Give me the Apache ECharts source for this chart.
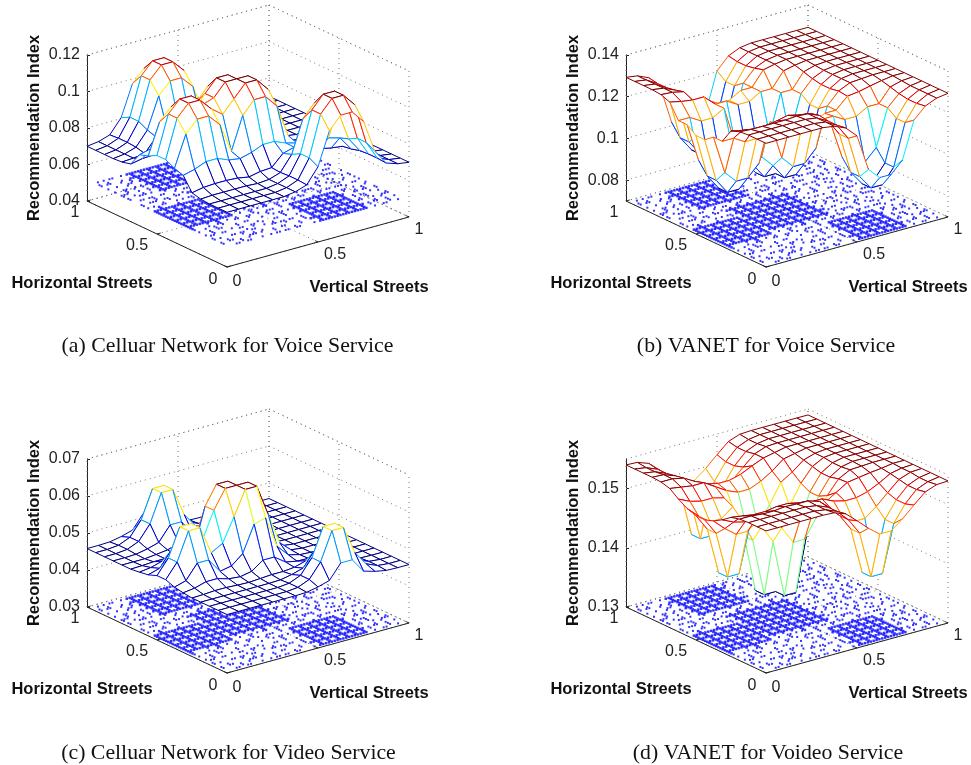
<!DOCTYPE html>
<html><head><meta charset="utf-8"><title>Recommendation Index surfaces</title>
<style>html,body{margin:0;padding:0;background:#fff}#c{width:971px;height:765px}</style>
<script src="https://cdn.jsdelivr.net/npm/echarts@6/dist/echarts.min.js"></script>
</head><body><div id="c"></div>
<script>
// Surface heights, in units of 1e-4. Rows: y = 0..1, columns: x = 0..1, step 1/16.
const surfaceA = [
[700,700,700,700,700,700,709,730,812,992,1061,1061,992,812,730,709,700],
[700,700,700,700,700,700,709,734,838,1061,1130,1130,1061,838,734,709,700],
[700,700,700,700,700,700,709,734,838,1061,1130,1130,1061,838,734,709,700],
[704,708,708,708,708,704,709,730,812,992,1061,1061,992,812,730,709,700],
[716,728,732,732,728,717,730,734,795,812,838,838,812,795,717,704,700],
[789,805,830,830,805,795,812,838,838,812,795,734,730,717,709,700,700],
[805,975,1040,1040,975,812,992,1061,1061,992,812,730,709,704,700,700,700],
[830,1040,1105,1105,1040,992,1061,1130,1130,1061,838,734,709,700,700,700,700],
[830,1040,1105,1105,1040,1061,1130,1130,1130,1061,838,734,709,700,700,700,700],
[805,975,1040,1040,975,1061,1130,1130,1061,992,812,730,709,700,700,700,700],
[789,805,830,830,812,992,1061,1061,992,812,795,717,704,700,700,700,700],
[716,728,732,732,795,812,838,838,812,795,717,709,700,700,700,700,700],
[704,708,716,789,805,830,830,805,789,717,709,700,700,700,700,700,700],
[700,708,728,805,975,1040,1040,975,805,728,708,700,700,700,700,700,700],
[700,708,732,830,1040,1105,1105,1040,830,732,708,700,700,700,700,700,700],
[700,708,732,830,1040,1105,1105,1040,830,732,708,700,700,700,700,700,700],
[700,708,728,805,975,1040,1040,975,805,728,708,700,700,700,700,700,700]];
const surfaceB = [
[1293,1293,1293,1293,1293,1293,1285,1262,1209,1033,979,979,1033,1209,1262,1285,1293],
[1293,1293,1293,1293,1293,1293,1285,1255,1178,979,910,910,979,1178,1255,1285,1293],
[1293,1293,1293,1293,1293,1293,1285,1255,1178,979,910,910,979,1178,1255,1285,1293],
[1289,1285,1285,1285,1285,1289,1285,1262,1209,1033,979,979,1033,1209,1262,1285,1293],
[1273,1261,1253,1253,1261,1273,1260,1252,1209,1209,1178,1178,1209,1209,1274,1289,1293],
[1204,1204,1172,1172,1204,1203,1203,1171,1171,1203,1203,1255,1262,1274,1285,1293,1293],
[1204,1019,963,963,1019,1203,1016,958,958,1016,1203,1260,1285,1289,1293,1293,1293],
[1172,963,890,890,963,1016,958,885,885,958,1171,1252,1285,1293,1293,1293,1293],
[1172,963,890,890,963,958,885,885,885,958,1171,1252,1285,1293,1293,1293,1293],
[1204,1019,963,963,1019,958,885,885,958,1016,1203,1260,1285,1293,1293,1293,1293],
[1204,1204,1172,1172,1203,1016,958,958,1016,1203,1203,1273,1289,1293,1293,1293,1293],
[1273,1261,1253,1253,1203,1203,1171,1171,1203,1203,1273,1285,1293,1293,1293,1293,1293],
[1289,1285,1273,1204,1204,1172,1172,1204,1204,1273,1285,1293,1293,1293,1293,1293,1293],
[1293,1285,1261,1204,1019,963,963,1019,1204,1261,1285,1293,1293,1293,1293,1293,1293],
[1293,1285,1253,1172,963,890,890,963,1172,1253,1285,1293,1293,1293,1293,1293,1293],
[1293,1285,1253,1172,963,890,890,963,1172,1253,1285,1293,1293,1293,1293,1293,1293],
[1293,1285,1261,1204,1019,963,963,1019,1204,1261,1285,1293,1293,1293,1293,1293,1293]];
const surfaceC = [
[458,458,458,458,458,458,458,459,465,474,513,513,474,465,459,458,458],
[458,458,458,458,458,458,458,461,474,513,589,589,513,474,461,458,458],
[458,458,458,458,458,458,458,461,474,513,589,589,513,474,461,458,458],
[458,458,458,458,458,458,458,459,465,474,513,513,474,465,459,458,458],
[458,459,461,461,459,458,460,462,462,465,474,474,465,461,458,458,458],
[461,465,474,474,465,462,468,490,490,468,462,461,459,458,458,458,458],
[465,474,513,513,474,480,505,576,585,500,468,460,458,458,458,458,458],
[474,513,589,589,513,530,593,659,659,575,490,462,458,458,458,458,458],
[474,513,589,589,537,608,659,659,659,560,482,462,458,458,458,458,458],
[465,474,513,513,500,608,659,659,600,500,468,460,458,458,458,458,458],
[461,465,474,474,468,520,590,590,500,468,462,458,458,458,458,458,458],
[458,459,461,461,462,468,482,482,468,462,458,458,458,458,458,458,458],
[458,458,458,461,465,474,474,465,461,458,458,458,458,458,458,458,458],
[458,458,459,465,474,513,513,474,465,459,458,458,458,458,458,458,458],
[458,458,461,474,513,589,589,513,474,461,458,458,458,458,458,458,458],
[458,458,461,474,513,589,589,513,474,461,458,458,458,458,458,458,458],
[458,458,459,465,474,513,513,474,465,459,458,458,458,458,458,458,458]];
const surfaceD = [
[1540,1540,1540,1540,1540,1540,1539,1532,1515,1497,1482,1482,1497,1515,1532,1539,1540],
[1540,1540,1540,1540,1540,1540,1537,1529,1510,1482,1403,1403,1482,1510,1529,1537,1540],
[1540,1540,1540,1540,1540,1540,1537,1529,1510,1482,1403,1403,1482,1510,1529,1537,1540],
[1539,1539,1537,1537,1539,1538,1538,1532,1515,1497,1482,1482,1497,1515,1532,1539,1540],
[1535,1532,1529,1529,1532,1532,1528,1524,1524,1515,1510,1510,1515,1524,1535,1539,1540],
[1524,1515,1510,1510,1515,1517,1505,1497,1497,1505,1517,1529,1532,1535,1537,1540,1540],
[1515,1497,1482,1482,1497,1505,1472,1442,1442,1472,1505,1528,1538,1539,1540,1540,1540],
[1510,1482,1403,1403,1482,1472,1442,1345,1345,1442,1497,1524,1536,1540,1540,1540,1540],
[1510,1482,1403,1403,1482,1442,1345,1345,1345,1442,1497,1524,1536,1540,1540,1540,1540],
[1515,1497,1482,1482,1497,1442,1345,1345,1442,1472,1505,1528,1538,1540,1540,1540,1540],
[1524,1515,1510,1510,1505,1472,1442,1442,1472,1505,1517,1532,1538,1540,1540,1540,1540],
[1535,1532,1529,1529,1517,1505,1497,1497,1505,1517,1532,1536,1540,1540,1540,1540,1540],
[1539,1539,1535,1524,1515,1510,1510,1515,1524,1532,1536,1540,1540,1540,1540,1540,1540],
[1540,1539,1532,1515,1497,1482,1482,1497,1515,1532,1539,1540,1540,1540,1540,1540,1540],
[1540,1537,1529,1510,1482,1403,1403,1482,1510,1529,1537,1540,1540,1540,1540,1540,1540],
[1540,1537,1529,1510,1482,1403,1403,1482,1510,1529,1537,1540,1540,1540,1540,1540,1540],
[1540,1539,1532,1515,1497,1482,1482,1497,1515,1532,1539,1540,1540,1540,1540,1540,1540]];

// Floor points along the street lattice: '#' = point. Rows run at y = k/20, columns at x = m/20; characters step 1/60.
const rowStreets = [
"....#..##. ..#....##. #...##.... ..# ################ ..#..##...#.",
"#..##..... ##..#...#. .##....#.. .## ################ #...##..#...",
"..#...##.. #..##..... #..#..##.. #.. ################ .##...#..##.",
".##..#.... .##...#..# ...##..#.. ..# ################ ..#.##....#.",
"...#..##.. ..#..##... .#...#.##. ..# ################ #...#..##..#",
"#....#..## ....#...## ..#..##... #.. ################ ..##..#...#.",
"################ ..#..##.. .#...##..# ..#..#.... ##..#..##. ...#..",
"################ . ##################### ..#..##... #...##..#. ..#",
"################ # ##################### #..##...#. .##..#.... #.#",
"################ # ##################### ...#..##.. #..#...##. ..#",
"################ # ##################### .##...#..# ...##...#. #..",
"################ . ##################### ..#.##.... ##..#..#.. .##",
"..#..##... #...##. ##################### #...#.##.. .##...#..# ..#",
"#...##..#. ..##..# ##################### ..##...#.. #...##..#. #..",
"..#..##... #...#..##. ..##...#.. #..##...#. .#...##..# ..##...#.. .",
"#...##..#.. ################## ..#..##... #...#..##. ..##...#.. ##",
".##...#..#. ################## #...#.##.. .##....#.. #..##...#. ..",
"...##..#... ################## .##...#... #.##...#.. .#..##..#. #.",
"#..#...##.. ################## ...##..#.. ..#..##... #...#..##. .#",
"..##...#..# ################## #..#...##. ...##..#.. .##...#..# ..",
".#...##.... ################## ..##...#.. #...##..#. ..#...##.. #."];
const colStreets = [
"..#...##.. #..#..## ################ ..#.##.... #..##..#.. ...##..",
"#..##..... ##..#... ################ ##...#..#. ..#..##... #...#.#",
".##...#..# ...##..# ################ ...#..##.. .##...#..# ..#...#",
"..#..##... #...#.## ################ #...##..#. ...#..##.. .##...#",
"...##..#.. .##...#. ################ ..#..##...# ################",
"#...#...## ..#..##. ################ .##...#..#. ################",
"..##...#.. #...##..#. ##################### .#.. ################",
"#..#..##.. ..#...##.. ##################### #..# ################",
".#...##..# ...##...#. ##################### ..#. ################",
"..##..#... ##...#..## ##################### .##. ################",
"#...##..#. ..#...##.. ##################### ..##...#.. #..#...##.",
"################ ..#. ##################### #...##.#.. ...##..#..",
"################ .##. ##################### ..#..##... #...#..##.",
"################ ..##...#.. #..##...#. ..#...##.. .##..#.... #.#..",
"################ #...##..#. ..##...#.. #...#.##.. ..#..##..# ..#..",
"################ .#..##...# ...##..#.. .##...#..# #...#...## ...#.",
"################ ..#...##.. #..#..##.. ...##.#... ..##...#.. #...#",
"..##...#.. #...##..#. ..#...##.. .##..#.... #..##...#. ..#..##... #",
"#...#..##. ..##...#.. #..#...##. ...##..#.. .#...##..# ...##..#.. .",
".##..#.... #..##...#. ..#...##.. #...#..##. ..##...#.. #...##.... #",
"...#..##.. .##...#..# ...##..#.. ..#...##.. #..#..##.. ..##...#.. ."];

const xTickLabels = ["0","0.5","1"];
const yTickLabels = ["0","0.5","1"];
const floorTicks = [0,0.5,1];
const zTicksA = [0.04,0.06,0.08,0.1,0.12];
const zTicksB = [0.08,0.1,0.12,0.14];
const zTicksC = [0.03,0.04,0.05,0.06,0.07];
const zTicksD = [0.13,0.14,0.15];
const captions = ["(a) Celluar Network for Voice Service","(b) VANET for Voice Service","(c) Celluar Network for Video Service","(d) VANET for Voideo Service"];

const panels = [
 {cells:surfaceA,zTicks:zTicksA,zmin:0.04,zmax:0.12,dotZ:0.05,ox:227,oy:267,h:146,cap:captions[0],capX:227.5,capY:335},
 {cells:surfaceB,zTicks:zTicksB,zmin:0.07,zmax:0.14,dotZ:0.07,ox:766,oy:267,h:146,cap:captions[1],capX:766,capY:335},
 {cells:surfaceC,zTicks:zTicksC,zmin:0.03,zmax:0.07,dotZ:0.03,ox:227,oy:673,h:148,cap:captions[2],capX:228.5,capY:742},
 {cells:surfaceD,zTicks:zTicksD,zmin:0.13,zmax:0.155,dotZ:0.13,ox:766,oy:673,h:148,cap:captions[3],capX:768,capY:742}
];
const XDX=182,XDY=50,YDX=140,YDY=66;
const SANS='"Liberation Sans",Arial,sans-serif';

function clamp(v){return Math.max(0,Math.min(1,v));}
function jet(t){
  const r=clamp(1.5-Math.abs(4*t-3)),g=clamp(1.5-Math.abs(4*t-2)),b=clamp(1.5-Math.abs(4*t-1));
  return 'rgb('+Math.round(r*255)+','+Math.round(g*255)+','+Math.round(b*255)+')';
}
// Long unbroken runs are the heavily used stretches of street and are drawn heavier.
function streetPoints(){
  const seen={};
  const add=(i,j,heavy)=>{const k=i+'_'+j;if(!seen[k]||heavy)seen[k]=[0.025+0.95*i/60,0.025+0.95*j/60,heavy];};
  const scan=(s,put)=>{const t=s.replace(/ /g,'');let m;const re=/#+/g;
    while((m=re.exec(t))){for(let c=0;c<m[0].length;c++){const q=m.index+c;if(q<=60)put(q,m[0].length>=10);}}};
  rowStreets.forEach((s,k)=>scan(s,(i,h)=>add(i,k*3,h)));
  colStreets.forEach((s,m)=>scan(s,(j,h)=>add(m*3,j,h)));
  return Object.keys(seen).map(k=>seen[k]);
}
const floorPoints=streetPoints();

const grid=[],xAxis=[],yAxis=[],series=[],title=[];
panels.forEach((p,n)=>{
  const zr=p.zmax-p.zmin;
  const W=XDX+YDX;
  const proj=(x,y,z)=>[(YDX*(1-y)+XDX*x)/W, z+zr/p.h*(XDY*x-YDY*(1-y))];
  grid.push({left:p.ox-YDX,top:p.oy-YDY-p.h,width:W,height:p.h,containLabel:false});
  xAxis.push({type:'value',gridIndex:n,min:0,max:1,show:false});
  yAxis.push({type:'value',gridIndex:n,min:p.zmin,max:p.zmax,
    name:'Recommendation Index',nameLocation:'middle',nameRotate:90,nameGap:44,
    nameTextStyle:{fontFamily:SANS,fontWeight:'bold',fontSize:16.5,color:'#111'},
    axisLine:{show:true,onZero:false,lineStyle:{color:'#222',width:1}},
    axisTick:{show:true,inside:true,length:3,customValues:p.zTicks,lineStyle:{color:'#222'}},
    axisLabel:{show:true,margin:7,fontFamily:SANS,fontSize:16,color:'#222',customValues:p.zTicks,formatter:v=>String(+(+v).toFixed(3))},
    splitLine:{show:false}});
  title.push({text:p.cap,left:p.capX,top:p.capY,textAlign:'center',padding:0,
    textStyle:{fontFamily:'"Liberation Serif","Times New Roman",serif',fontWeight:'normal',fontSize:21.8,color:'#111'}});

  // box, grid lines, axes, floor tick labels
  const dotted=[],solid=[];
  const zTop=p.zmax,zBot=p.zmin;
  p.zTicks.concat([zTop,zBot]).forEach(z=>{dotted.push([[0,1,z],[1,1,z]]);dotted.push([[1,1,z],[1,0,z]]);});
  floorTicks.forEach(t=>{
    dotted.push([[t,1,zBot],[t,1,zTop]]);dotted.push([[1,t,zBot],[1,t,zTop]]);
    dotted.push([[t,0,zBot],[t,1,zBot]]);dotted.push([[0,t,zBot],[1,t,zBot]]);
    solid.push([[t,0,zBot],[t,0.02,zBot]]);solid.push([[0,t,zBot],[0.02,t,zBot]]);
  });
  solid.push([[0,0,zBot],[1,0,zBot]]);solid.push([[0,0,zBot],[0,1,zBot]]);
  const xOff=[[10,15],[17,13],[10,13]],yOff=[[-14,13],[-20,12],[-12,12]];
  series.push({type:'custom',xAxisIndex:n,yAxisIndex:n,silent:true,animation:false,clip:false,z:1,
    data:[[0,0]],
    renderItem(params,api){
      const C=a=>api.coord(proj(a[0],a[1],a[2]));
      const kids=[];
      dotted.forEach(l=>{const A=C(l[0]),B=C(l[1]);kids.push({type:'line',shape:{x1:A[0],y1:A[1],x2:B[0],y2:B[1]},style:{stroke:'#777',lineWidth:1,lineDash:[1,4],fill:null}});});
      solid.forEach(l=>{const A=C(l[0]),B=C(l[1]);kids.push({type:'line',shape:{x1:A[0],y1:A[1],x2:B[0],y2:B[1]},style:{stroke:'#222',lineWidth:1,fill:null}});});
      floorTicks.forEach((t,k)=>{
        const A=C([t,0,zBot]),B=C([0,t,zBot]);
        kids.push({type:'text',x:A[0]+xOff[k][0],y:A[1]+xOff[k][1],style:{text:xTickLabels[k],font:'16px '+SANS,fill:'#222',align:'center',verticalAlign:'middle'}});
        kids.push({type:'text',x:B[0]+yOff[k][0],y:B[1]+yOff[k][1],style:{text:yTickLabels[k],font:'16px '+SANS,fill:'#222',align:'center',verticalAlign:'middle'}});
      });
      const O=C([0,0,zBot]);
      kids.push({type:'text',x:O[0]-145,y:O[1]+16,style:{text:'Horizontal Streets',font:'bold 16.5px '+SANS,fill:'#111',align:'center',verticalAlign:'middle'}});
      kids.push({type:'text',x:O[0]+142,y:O[1]+20,style:{text:'Vertical Streets',font:'bold 16.5px '+SANS,fill:'#111',align:'center',verticalAlign:'middle'}});
      return {type:'group',children:kids};
    }});

  // floor points
  series.push({type:'scatter',xAxisIndex:n,yAxisIndex:n,silent:true,animation:false,clip:false,z:2,progressive:0,
    symbol:'rect',symbolSize:v=>v[2]?2.5:2,itemStyle:{color:'#0000ff'},
    data:floorPoints.map(q=>{const a=proj(q[0],q[1],p.dotZ);return [a[0],a[1],q[2]?1:0];})});

  // mesh surface, painted from the far corner to the near corner
  const Z=p.cells.map(r=>r.map(v=>v/10000));
  const N=Z.length-1;
  let lo=Infinity,hi=-Infinity;Z.forEach(r=>r.forEach(v=>{lo=Math.min(lo,v);hi=Math.max(hi,v);}));
  const col=v=>jet((v-lo)/(hi-lo));
  const order=[];
  for(let j=N-1;j>=0;j--)for(let i=N-1;i>=0;i--)order.push([i,j]);
  series.push({type:'custom',xAxisIndex:n,yAxisIndex:n,silent:true,animation:false,clip:false,z:3,progressive:0,
    data:order,
    renderItem(params,api){
      const i=api.value(0),j=api.value(1);
      const V=(a,b)=>api.coord(proj(a/N,b/N,Z[b][a]));
      const p00=V(i,j),p10=V(i+1,j),p11=V(i+1,j+1),p01=V(i,j+1);
      const ln=(A,B,c)=>({type:'line',shape:{x1:A[0],y1:A[1],x2:B[0],y2:B[1]},style:{stroke:c,lineWidth:1,fill:null}});
      return {type:'group',children:[
        {type:'polygon',shape:{points:[p00,p10,p11,p01]},style:{fill:'#fff',stroke:null}},
        ln(p01,p11,col(Z[j+1][i])),
        ln(p10,p11,col(Z[j][i+1])),
        ln(p00,p10,col(Z[j][i])),
        ln(p00,p01,col(Z[j][i]))
      ]};
    }});
});

const chart=echarts.init(document.getElementById('c'),null,{renderer:'canvas'});
chart.setOption({animation:false,backgroundColor:'#fff',title,grid,xAxis,yAxis,series,tooltip:{show:false}});
</script></body></html>
